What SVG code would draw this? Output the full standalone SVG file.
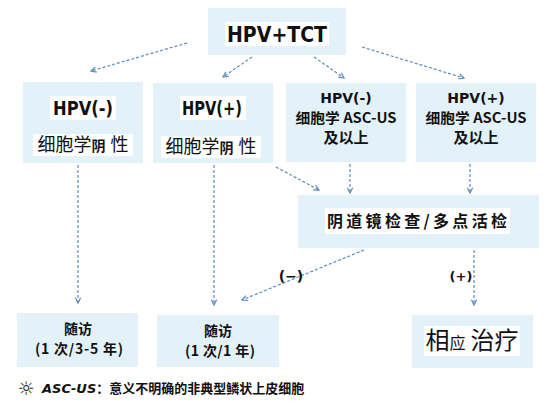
<svg xmlns="http://www.w3.org/2000/svg" width="554" height="416" viewBox="0 0 554 416">
<defs>
<style>
.box{fill:#e3f2f9;}
.hl{fill:#ffffff;}
.t{font-family:"DejaVu Sans","Noto Sans CJK SC",sans-serif;fill:#111;text-anchor:middle;}
.c{font-family:"Noto Sans CJK SC",sans-serif;fill:#111;text-anchor:middle;}
.con{stroke:#5a8cbf;stroke-width:1.2;stroke-dasharray:3 2;fill:none;marker-end:url(#ah);}
</style>
<marker id="ah" viewBox="0 0 8 8" refX="7" refY="4" markerWidth="7" markerHeight="7" markerUnits="userSpaceOnUse" orient="auto">
<path d="M1,1 L7,4 L1,7" fill="none" stroke="#5a8cbf" stroke-width="1.4"/>
</marker>
</defs>
<rect width="554" height="416" fill="#ffffff"/>

<g id="connectors">
<line class="con" x1="187" y1="43" x2="91" y2="71"/>
<line class="con" x1="252" y1="57" x2="223" y2="77"/>
<line class="con" x1="314" y1="57" x2="344" y2="78"/>
<line class="con" x1="362" y1="47" x2="464" y2="78"/>
<line class="con" x1="78" y1="165" x2="78" y2="303"/>
<line class="con" x1="214" y1="165" x2="214" y2="305"/>
<line class="con" x1="276" y1="167" x2="319" y2="190"/>
<line class="con" x1="350" y1="164" x2="350" y2="193"/>
<line class="con" x1="470" y1="164" x2="470" y2="193"/>
<line class="con" x1="364" y1="250" x2="242" y2="300"/>
<line class="con" x1="474" y1="250" x2="474" y2="305"/>
<text class="t" x="291" y="281" font-size="14" font-weight="bold">(−)</text>
<text class="t" x="461" y="281" font-size="13" font-weight="bold">(+)</text>
</g>

<g id="top">
<rect class="box" x="208" y="8" width="138" height="47"/>
<rect class="hl" x="225" y="22" width="104" height="24"/>
<text class="t" x="277" y="42" font-size="21" font-weight="bold" textLength="100" lengthAdjust="spacingAndGlyphs">HPV+TCT</text>
</g>

<g id="n-hpvneg">
<rect class="box" x="23" y="82" width="120" height="81"/>
<rect class="hl" x="50" y="96" width="66" height="24"/>
<rect class="hl" x="33" y="134" width="100" height="22"/>
<text class="t" x="83" y="115" font-size="19" font-weight="bold" textLength="60" lengthAdjust="spacingAndGlyphs">HPV(-)</text>
<text class="c" x="83" y="151" font-size="18">细胞学<tspan font-size="14" font-weight="bold">阴</tspan><tspan dx="5">性</tspan></text>
</g>

<g id="n-hpvpos">
<rect class="box" x="153" y="83" width="120" height="80"/>
<rect class="hl" x="180" y="96" width="66" height="24"/>
<rect class="hl" x="161" y="136" width="100" height="22"/>
<text class="t" x="212" y="115" font-size="19" font-weight="bold" textLength="60" lengthAdjust="spacingAndGlyphs">HPV(+)</text>
<text class="c" x="211" y="153" font-size="18">细胞学<tspan font-size="14" font-weight="bold">阴</tspan><tspan dx="5">性</tspan></text>
</g>

<g id="n-hpvneg-asc">
<rect class="box" x="286" y="83" width="120" height="79"/>
<text class="t" x="346" y="103" font-size="14" font-weight="bold">HPV(-)</text>
<text class="c" x="346" y="123" font-size="14" font-weight="bold" textLength="101" lengthAdjust="spacingAndGlyphs">细胞学 ASC-US</text>
<text class="c" x="346" y="143" font-size="15" font-weight="bold">及以上</text>
</g>

<g id="n-hpvpos-asc">
<rect class="box" x="416" y="83" width="120" height="79"/>
<text class="t" x="476" y="103" font-size="14" font-weight="bold">HPV(+)</text>
<text class="c" x="476" y="123" font-size="14" font-weight="bold" textLength="101" lengthAdjust="spacingAndGlyphs">细胞学 ASC-US</text>
<text class="c" x="476" y="143" font-size="15" font-weight="bold">及以上</text>
</g>

<g id="n-colposcopy">
<rect class="box" x="298" y="195" width="241" height="53"/>
<rect class="hl" x="325" y="208" width="185" height="26"/>
<text class="c" x="417" y="227" font-size="16" font-weight="bold" textLength="180" lengthAdjust="spacing">阴道镜检查/多点活检</text>
</g>

<g id="n-follow1">
<rect class="box" x="17" y="313" width="121" height="54"/>
<text class="c" x="78" y="334" font-size="14" font-weight="bold">随访</text>
<text class="c" x="79" y="354" font-size="14" font-weight="bold" textLength="88" lengthAdjust="spacing">(1 次/3-5 年)</text>
</g>

<g id="n-follow2">
<rect class="box" x="157" y="315" width="122" height="52"/>
<text class="c" x="218" y="336" font-size="14" font-weight="bold">随访</text>
<text class="c" x="220" y="356" font-size="14" font-weight="bold" textLength="70" lengthAdjust="spacing">(1 次/1 年)</text>
</g>

<g id="n-treat">
<rect class="box" x="412" y="315" width="121" height="53"/>
<rect class="hl" x="424" y="326" width="96" height="30"/>
<text class="c" x="472" y="349" font-size="24">相<tspan font-size="16">应</tspan><tspan dx="5">治疗</tspan></text>
</g>

<g id="footnote">
<text x="26" y="395" font-family="DejaVu Sans,sans-serif" font-size="19" font-weight="bold" fill="#222" text-anchor="middle">☼</text>
<text x="42" y="393" font-family="DejaVu Sans,'Noto Sans CJK SC',sans-serif" font-size="13" fill="#111" font-weight="bold"><tspan font-style="italic">ASC-US</tspan><tspan font-family="Noto Sans CJK SC,sans-serif" textLength="208" lengthAdjust="spacing">：意义不明确的非典型鳞状上皮细胞</tspan></text>
</g>
</svg>
